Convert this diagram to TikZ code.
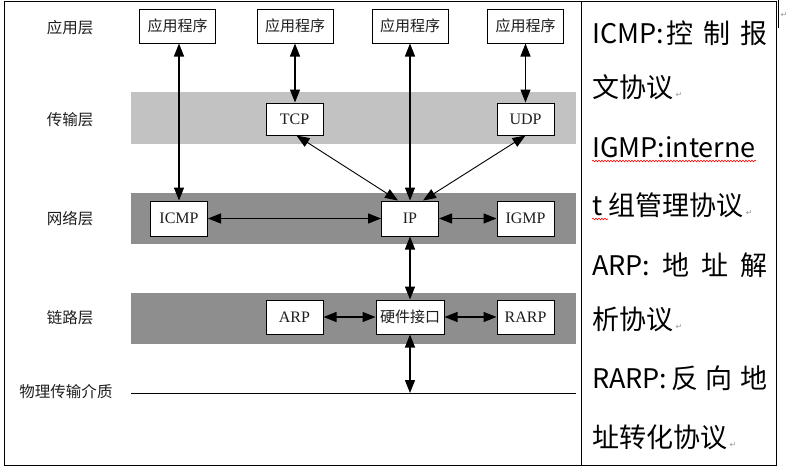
\documentclass[tikz,border=0pt]{standalone}
\usepackage{fontspec}
\newfontfamily\cjk{Noto Sans CJK SC}
\newfontfamily\timesf{Liberation Serif}
\newfontfamily\markf{DejaVu Sans}
\usepackage{tikz}
\usetikzlibrary{arrows.meta}
\usetikzlibrary{decorations.pathmorphing}
\definecolor{ly-light}{HTML}{C2C2C2}
\definecolor{ly-dark}{HTML}{8E8E8E}
\definecolor{ly-text}{HTML}{1E1E1E}
\definecolor{ly-mark}{HTML}{9A9A9A}

\begin{document}
\begin{tikzpicture}[x=1pt, y=-1pt,
    box/.style={draw, fill=white, line width=1pt, minimum width=57pt, minimum height=34pt, inner sep=1pt, text=ly-text, font=\timesf\fontsize{16}{16}\selectfont},
    cjkbox/.style={box, font=\cjk\fontsize{15}{15}\selectfont},
    layer/.style={inner sep=0, text=ly-text, font=\cjk\fontsize{15.5}{16}\selectfont},
    link/.style={{Triangle[length=13pt,width=10pt]}-{Triangle[length=13pt,width=10pt]}, line width=1.2pt},
    note/.style={anchor=base west, inner sep=0, font=\cjk\fontsize{27}{27}\selectfont},
    pmark/.style={inner sep=0, text=ly-mark, font=\markf\fontsize{8}{8}\selectfont}]
    \useasboundingbox (0,0) rectangle (792,467);

    % Layer bands
    \fill[ly-light] (131,92) rectangle (576,144);
    \fill[ly-dark] (131,193) rectangle (576,244);
    \fill[ly-dark] (131,293) rectangle (576,344);

    % Physical medium
    \coordinate (phys-l) at (131,393);
    \coordinate (phys-r) at (576,393);
    \draw[line width=1pt] (phys-l) -- (phys-r);

    % Layer names
    \node[layer] (l-app) at (70,28) {应用层};
    \node[layer] (l-trans) at (70,120) {传输层};
    \node[layer] (l-net) at (70,219) {网络层};
    \node[layer] (l-link) at (70,318) {链路层};
    \node[layer] (l-phys) at (66,392) {物理传输介质};

    % Application programs
    \foreach \x/\n in {177.5/1, 295/2, 410/3, 525.5/4} {
        \node[cjkbox, minimum width=76pt] (app-\n) at (\x,26) {应用程序};
    }

    % Protocol boxes
    \node[box, minimum height=32pt] (tcp) at (294.5,119) {TCP};
    \node[box, minimum height=32pt] (udp) at (525.5,119) {UDP};
    \node[box, minimum height=35pt] (icmp) at (179,218.5) {ICMP};
    \node[box, minimum height=35pt] (ip) at (410,218.5) {IP};
    \node[box, minimum height=35pt] (igmp) at (525.5,218.5) {IGMP};
    \node[box] (arp) at (294.5,317) {ARP};
    \node[cjkbox, minimum width=68pt] (hw) at (410,317) {硬件接口};
    \node[box] (rarp) at (525.5,317) {RARP};

    % Connections
    \draw[link] (icmp.north |- app-1.south) -- (icmp.north);
    \draw[link] (app-2.south) -- (app-2.south |- tcp.north);
    \draw[link] (app-3.south) -- (ip.north);
    \draw[link] (app-4.south) -- (udp.north);
    \draw[link, line width=0.9pt] ([xshift=2pt]tcp.south) -- ([xshift=-12pt]ip.north);
    \draw[link, line width=0.9pt] (udp.south) -- ([xshift=13pt]ip.north);
    \draw[link] (icmp.east) -- (ip.west);
    \draw[link] (ip.east) -- (igmp.west);
    \draw[link] (ip.south) -- (hw.north);
    \draw[link] (arp.east) -- (hw.west);
    \draw[link] (hw.east) -- (rarp.west);
    \draw[link] (hw.south) -- (hw.south |- phys-l);

    % Table frame
    \draw[line width=1pt] (4,1) rectangle (776,465);
    \draw[line width=1pt] (581,1) -- (581,465);
    \draw[line width=0.8pt] (778,0) -- (778,28);
    \node[pmark] (m-0) at (784,15) {↵};

    % Notes column
    \node[note] (n-1) at (592,43) {\hbox to 175pt{ICMP:\hspace{3pt}控\hfill 制\hfill 报}};
    \node[note] (n-2) at (592,97) {文协议};
    \node[note] (n-3) at (592,157) {IGMP:interne};
    \node[note] (n-4) at (592,215) {t 组管理协议};
    \node[note] (n-5) at (592,275) {\hbox to 175pt{ARP:\hfill 地\hfill 址\hfill 解}};
    \node[note] (n-6) at (592,329) {析协议};
    \node[note] (n-7) at (592,388) {\hbox to 175pt{RARP:\hspace{4pt}反\hfill 向\hfill 地}};
    \node[note] (n-8) at (592,447) {址转化协议};

    % Paragraph marks
    \node[pmark, anchor=base west] (m-2) at ([xshift=2pt]n-2.base east) {↵};
    \node[pmark, anchor=base west] (m-4) at ([xshift=2pt]n-4.base east) {↵};
    \node[pmark, anchor=base west] (m-6) at ([xshift=2pt]n-6.base east) {↵};
    \node[pmark, anchor=base west] (m-8) at ([xshift=2pt]n-8.base east) {↵};

    % Spell check underline
    \draw[red, line width=0.6pt, decorate, decoration={snake, amplitude=0.8pt, segment length=3pt}] ([yshift=-4pt]n-3.base west) -- ([yshift=-4pt]n-3.base east);
    \draw[red, line width=0.6pt, decorate, decoration={snake, amplitude=0.8pt, segment length=3pt}] ([yshift=-4pt]n-4.base west) -- ++(16,0);
\end{tikzpicture}
\end{document}
